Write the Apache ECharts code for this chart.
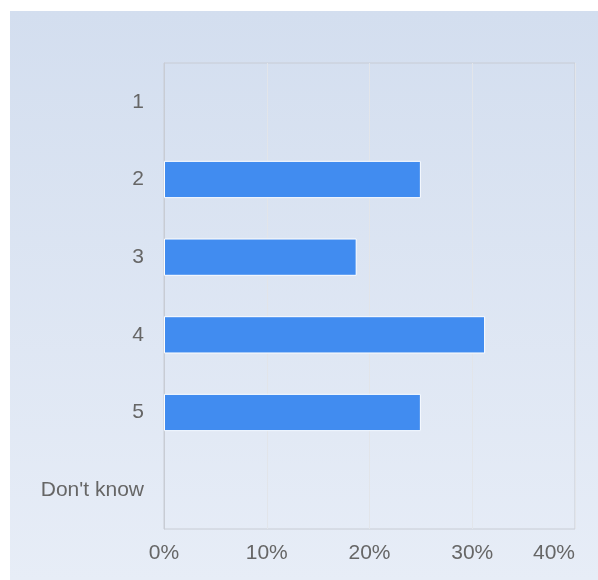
<!DOCTYPE html>
<html>
<head>
<meta charset="utf-8">
<script src="https://cdn.jsdelivr.net/npm/echarts@6/dist/echarts.min.js"></script>
<style>
  html, body { margin: 0; padding: 0; background: #ffffff; }
  #panel {
    position: absolute; left: 10px; top: 11px; width: 588px; height: 569px;
    background: linear-gradient(to bottom, #d3deef 0%, #e7edf7 100%);
  }
  #chart { width: 100%; height: 100%; }
</style>
</head>
<body>
<div id="panel"><div id="chart"></div></div>
<script>
// Answer options, top to bottom
const categories = ['1', '2', '3', '4', '5', "Don't know"];
// Share of responses per option (%)
const shares = [0, 25, 18.75, 31.25, 25, 0];
// Value axis ticks (%)
const tickValues = [0, 10, 20, 30, 40];

const chart = echarts.init(document.getElementById('chart'), null, { renderer: 'canvas' });
const labelFont = { fontFamily: 'Liberation Sans, Arial, sans-serif', fontSize: 21, color: '#666666' };

// Empty categories get no outline so nothing shows at zero
const barData = shares.map(v => ({
  value: v,
  itemStyle: { borderWidth: v > 0 ? 1 : 0 }
}));

chart.setOption({
  animation: false,
  backgroundColor: 'transparent',
  grid: {
    left: 154, right: 23, top: 52, bottom: 51,
    show: true, borderColor: '#c8ccd4', borderWidth: 1, backgroundColor: 'transparent'
  },
  xAxis: {
    type: 'value',
    min: tickValues[0],
    max: tickValues[tickValues.length - 1],
    interval: 10,
    axisLine: { show: false },
    axisTick: { show: false },
    splitLine: { show: true, lineStyle: { color: '#e2e5ea', width: 1 } },
    axisLabel: Object.assign({ margin: 14, alignMaxLabel: 'right', formatter: v => v + '%' }, labelFont)
  },
  yAxis: {
    type: 'category',
    data: categories,
    inverse: true,
    axisLine: { show: true, lineStyle: { color: '#c8ccd4' } },
    axisTick: { show: false },
    splitLine: { show: false },
    axisLabel: Object.assign({ margin: 20, padding: [4, 0, 0, 0] }, labelFont)
  },
  series: [{
    type: 'bar',
    data: barData,
    barWidth: '48%',
    itemStyle: { color: '#418cf0', borderColor: '#ffffff', borderWidth: 1 }
  }]
});
</script>
</body>
</html>
